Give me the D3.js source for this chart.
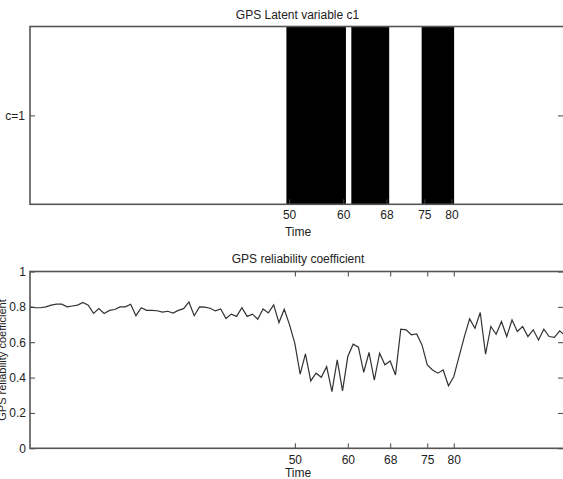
<!DOCTYPE html>
<html>
<head>
<meta charset="utf-8">
<script src="https://cdn.jsdelivr.net/npm/d3@7"></script>
<style>
  body { margin: 0; background: #fff; }
  svg { display: block; font-family: "Liberation Sans", Arial, sans-serif; }
  .axis text { font-size: 12px; fill: #222; }
  .axis line { stroke: #444; }
</style>
</head>
<body>
<svg id="chart" width="563" height="479"></svg>

<script>
// time steps where the latent variable c1 is on
var c1On = [50,51,52,53,54,55,56,57,58,59,60, 62,63,64,65,66,67,68, 75,76,77,78,79,80]
var timeTicks = [50, 60, 68, 75, 80]

// reliability coefficient, t = 0..101
var reliability = [
  0.80,0.795,0.795,0.80,0.81,0.815,0.815,0.80,0.805,0.81,
  0.825,0.81,0.763,0.79,0.763,0.78,0.785,0.80,0.80,0.815,
  0.75,0.795,0.78,0.78,0.778,0.77,0.775,0.765,0.78,0.79,
  0.828,0.75,0.80,0.798,0.792,0.777,0.788,0.734,0.759,0.746,
  0.796,0.746,0.759,0.730,0.788,0.766,0.811,0.711,0.786,0.698,
  0.594,0.419,0.534,0.381,0.425,0.402,0.462,0.321,0.500,0.325,
  0.519,0.589,0.572,0.430,0.542,0.386,0.538,0.472,0.494,0.415,
  0.674,0.670,0.642,0.647,0.585,0.472,0.443,0.425,0.443,0.354,
  0.405,0.519,0.632,0.732,0.679,0.768,0.532,0.689,0.645,0.717,
  0.632,0.726,0.661,0.689,0.632,0.670,0.613,0.674,0.632,0.628,
  0.664,0.638
]
var yTicks = [0, 0.2, 0.4, 0.6, 0.8, 1]

var svg = d3.select('#chart')
var left = 30, right = 565

function label(x, y, txt){
  return svg.append('text')
    .attr('x', x).attr('y', y)
    .attr('text-anchor', 'middle').attr('font-size', 12).attr('fill', '#222')
    .text(txt)
}

// ---------- top panel: latent variable ----------
var top1 = 26.5, bot1 = 204.3
var x1 = d3.scaleLinear().domain([2.1, 101]).range([left, right])
var y1 = d3.scaleLinear().domain([0.5, 1.5]).range([bot1, top1])

// merge consecutive on-steps into runs
var runs = []
c1On.forEach(function(t){
  var last = runs[runs.length-1]
  if (last && t == last[1]+1) last[1] = t
  else runs.push([t, t])
})

var g1 = svg.append('g')

g1.selectAll('rect.on')
  .data(runs)
  .enter()
  .append('rect')
  .attr('class', 'on')
  .attr('x', function(d){ return x1(d[0]-0.5) })
  .attr('width', function(d){ return x1(d[1]+0.5) - x1(d[0]-0.5) })
  .attr('y', top1)
  .attr('height', bot1-top1)
  .attr('fill', 'black')

g1.append('g').attr('class', 'axis')
  .attr('transform', 'translate(0,' + bot1 + ')')
  .call(d3.axisBottom(x1).tickValues(timeTicks).tickFormat(d3.format('d')).tickSizeInner(-5).tickSizeOuter(0).tickPadding(6.5))
  .call(function(g){ g.select('.domain').remove() })

g1.append('g').attr('class', 'axis')
  .attr('transform', 'translate(' + left + ',0)')
  .call(d3.axisLeft(y1).tickValues([1]).tickFormat(function(){ return 'c=1' }).tickSizeInner(-5).tickSizeOuter(0).tickPadding(5))
  .call(function(g){ g.select('.domain').remove() })

g1.append('g').attr('class', 'axis')
  .attr('transform', 'translate(' + (right-2) + ',0)')
  .call(d3.axisRight(y1).tickValues([1]).tickFormat('').tickSizeInner(-5).tickSizeOuter(0))
  .call(function(g){ g.select('.domain').remove() })

g1.append('rect')
  .attr('x', left).attr('y', top1)
  .attr('width', right-left).attr('height', bot1-top1)
  .attr('fill', 'none').attr('stroke', '#555').attr('stroke-width', 1.6)

label(297.5, 18.7, 'GPS Latent variable c1')
label(298, 235.6, 'Time')

// ---------- bottom panel: reliability ----------
var top2 = 271.5, bot2 = 448.3
var x2 = d3.scaleLinear().domain([0, 101]).range([left, right])
var y2 = d3.scaleLinear().domain([0, 1]).range([bot2, top2])

var g2 = svg.append('g')

g2.append('g').attr('class', 'axis')
  .attr('transform', 'translate(0,' + bot2 + ')')
  .call(d3.axisBottom(x2).tickValues(timeTicks).tickFormat(d3.format('d')).tickSizeInner(-5).tickSizeOuter(0).tickPadding(7))
  .call(function(g){ g.select('.domain').remove() })

g2.append('g').attr('class', 'axis')
  .attr('transform', 'translate(0,' + top2 + ')')
  .call(d3.axisTop(x2).tickValues(timeTicks).tickFormat('').tickSizeInner(-5).tickSizeOuter(0))
  .call(function(g){ g.select('.domain').remove() })

g2.append('g').attr('class', 'axis')
  .attr('transform', 'translate(' + left + ',0)')
  .call(d3.axisLeft(y2).tickValues(yTicks).tickFormat(function(d){ return d == 0 || d == 1 ? d : d.toFixed(1) }).tickSizeInner(-5).tickSizeOuter(0).tickPadding(4))
  .call(function(g){ g.select('.domain').remove() })

g2.append('g').attr('class', 'axis')
  .attr('transform', 'translate(' + (right-2) + ',0)')
  .call(d3.axisRight(y2).tickValues(yTicks).tickFormat('').tickSizeInner(-5).tickSizeOuter(0))
  .call(function(g){ g.select('.domain').remove() })

var line = d3.line()
  .x(function(d,i){ return x2(i) })
  .y(function(d){ return y2(d) })

g2.append('path')
  .datum(reliability)
  .attr('d', line)
  .attr('fill', 'none')
  .attr('stroke', '#333')
  .attr('stroke-width', 1.2)

g2.append('rect')
  .attr('x', left).attr('y', top2)
  .attr('width', right-left).attr('height', bot2-top2)
  .attr('fill', 'none').attr('stroke', '#555').attr('stroke-width', 1.6)

label(298, 262.6, 'GPS reliability coefficient')
label(298, 477, 'Time')

// y label, mostly off the left edge as in the original figure
label(6, 360, 'GPS reliability coefficient')
  .attr('font-size', 11)
  .attr('transform', 'rotate(-90,6,360)')
</script>
</body>
</html>
